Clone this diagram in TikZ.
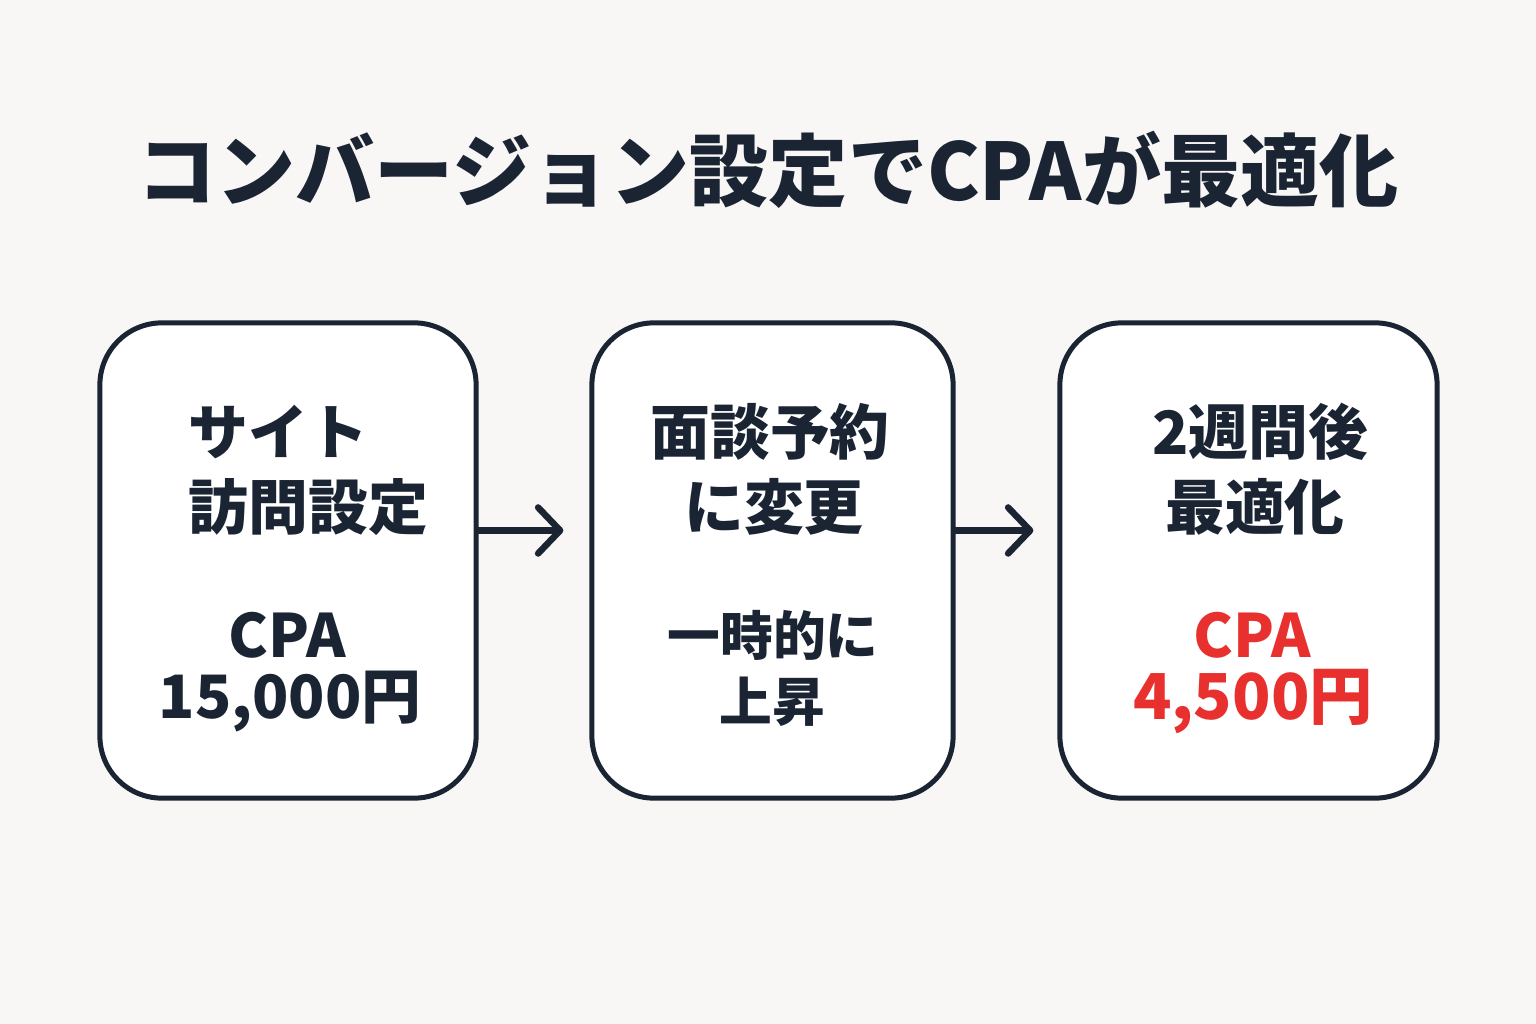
\documentclass[tikz,border=0pt]{standalone}
\usepackage{fontspec}
\setmainfont{Noto Sans CJK JP}
\usepackage{xcolor}
\usetikzlibrary{positioning, arrows.meta}
\definecolor{bgcol}{HTML}{F8F7F5}
\definecolor{ink}{HTML}{1A2433}
\definecolor{cpared}{HTML}{E8302E}
\begin{document}
\begin{tikzpicture}[x=0.01cm, y=-0.01cm]
% Define block styles
\tikzstyle{block} = [rectangle, draw=ink, fill=white, line width=0.05cm,
    rounded corners=0.62cm, minimum height=4.75cm, inner sep=0pt]
\tikzstyle{head} = [font=\bfseries\fontsize{17}{20}\selectfont, text=ink, inner sep=0pt]
\tikzstyle{note} = [font=\bfseries\fontsize{15}{18}\selectfont, text=ink, inner sep=0pt]
\tikzstyle{line} = [draw=ink, line width=0.065cm, line cap=round,
    -{Straight Barb[length=0.22cm, width=0.46cm, line width=0.065cm, round]}]
    % Background and frame
    \fill [bgcol] (0,0) rectangle (1536,1024);
    \useasboundingbox (0,0) rectangle (1536,1024);
    % Title
    \node [text=ink, font=\bfseries\fontsize{22.5}{26}\selectfont, inner sep=0pt] (title) at (768,170)
        {コンバージョン設定でCPAが最適化};
    % Place boxes
    \node [block, minimum width=3.76cm] (visit) at (288,560.5) {};
    \node [block, minimum width=3.61cm] (booking) at (772.5,560.5) {};
    \node [block, minimum width=3.77cm] (result) at (1248.5,560.5) {};
    % Texts of the first box
    \node [head, anchor=west] (visitA) at (188,432) {サイト};
    \node [head, anchor=west] (visitB) at (188,507) {訪問設定};
    \node [head] (visitC) at (287,635) {CPA};
    \node [head] (visitD) at (290,702) {15,000円};
    % Texts of the second box
    \node [head] (bookingA) at (770,432) {面談予約};
    \node [head] (bookingB) at (774,507) {に変更};
    \node [note] (bookingC) at (773,635) {一時的に};
    \node [note] (bookingD) at (772,702) {上昇};
    % Texts of the third box
    \node [head] (resultA) at (1260,432) {2週間後};
    \node [head] (resultB) at (1255,507) {最適化};
    \node [head, text=cpared] (resultC) at (1252,635) {CPA};
    \node [head, text=cpared, font=\bfseries\fontsize{18}{20}\selectfont] (resultD) at (1253,702) {4,500円};
    % Connectors
    \path [line, shorten >=0.26cm] ([yshift=0.3cm]visit.east) -- ([yshift=0.3cm]booking.west);
    \path [line, shorten >=0.24cm] ([yshift=0.3cm]booking.east) -- ([yshift=0.3cm]result.west);
\end{tikzpicture}
\end{document}
